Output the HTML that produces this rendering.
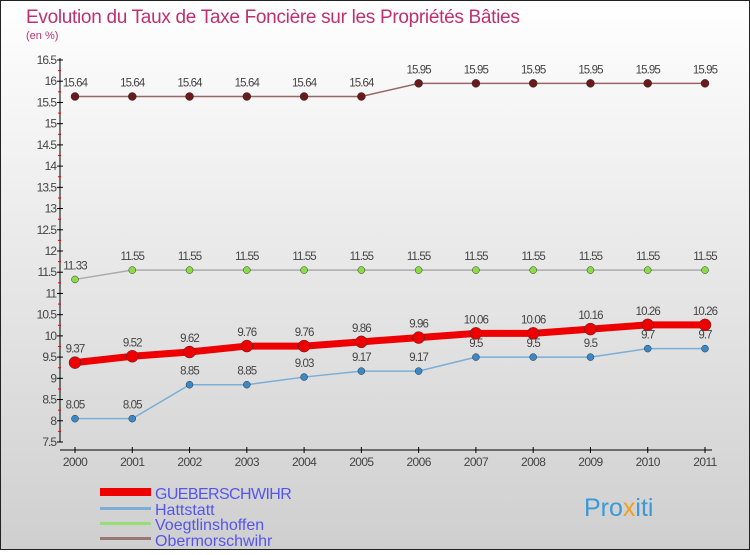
<!DOCTYPE html>
<html><head><meta charset="utf-8"><style>
body{margin:0}
svg text{font-family:"Liberation Sans",sans-serif}
</style></head><body>
<svg id="c" width="750" height="550" xmlns="http://www.w3.org/2000/svg">
<defs><linearGradient id="bg" x1="0" y1="0" x2="0" y2="1"><stop offset="0" stop-color="#ffffff"/><stop offset="1" stop-color="#cfcfcf"/></linearGradient></defs>
<rect x="0.5" y="0.5" width="749" height="549" fill="url(#bg)" stroke="#222"/>
<text x="26" y="23" font-size="19" fill="#c03070" letter-spacing="-0.3">Evolution du Taux de Taxe Foncière sur les Propriétés Bâties</text>
<text x="26" y="39" font-size="11" fill="#c03070">(en %)</text>
<g id="axes"></g><g id="series"></g>
<g>
<rect x="100" y="488" width="51" height="8" fill="#ee0000"/>
<text x="155" y="499" font-size="16" fill="#5555ee" letter-spacing="-0.6">GUEBERSCHWIHR</text>
<rect x="100" y="507" width="51" height="3" fill="#7aaed6"/>
<text x="155" y="515" font-size="16" fill="#5555ee">Hattstatt</text>
<rect x="100" y="522" width="51" height="3" fill="#99dd77"/>
<text x="155" y="530" font-size="16" fill="#5555ee">Voegtlinshoffen</text>
<rect x="100" y="537" width="51" height="3" fill="#997777"/>
<text x="155" y="546" font-size="16" fill="#5555ee">Obermorschwihr</text>
</g>
<text x="584" y="516" font-size="25" fill="#3a9ad9">Pro<tspan fill="#f0a020">x</tspan>iti</text>
</svg>
<script>
const years=[2000,2001,2002,2003,2004,2005,2006,2007,2008,2009,2010,2011];
const yTicks=[7.5,8,8.5,9,9.5,10,10.5,11,11.5,12,12.5,13,13.5,14,14.5,15,15.5,16,16.5];
const gueb=[9.37,9.52,9.62,9.76,9.76,9.86,9.96,10.06,10.06,10.16,10.26,10.26];
const hatt=[8.05,8.05,8.85,8.85,9.03,9.17,9.17,9.5,9.5,9.5,9.7,9.7];
const voeg=[11.33,11.55,11.55,11.55,11.55,11.55,11.55,11.55,11.55,11.55,11.55,11.55];
const ober=[15.64,15.64,15.64,15.64,15.64,15.64,15.95,15.95,15.95,15.95,15.95,15.95];
const NS="http://www.w3.org/2000/svg";
const xS=i=>75+i*(630/11);
const yS=v=>442-(v-7.5)*(382/9);
function mk(t,a,p){const e=document.createElementNS(NS,t);for(const k in a)e.setAttribute(k,a[k]);p.appendChild(e);return e;}
const ax=document.getElementById('axes');
let l=mk('line',{x1:60,y1:58,x2:60,y2:442,stroke:'#000'},ax);


l=mk('line',{x1:60,y1:450,x2:712,y2:450,stroke:'#000'},ax);


yTicks.forEach((v,i)=>{const y=yS(v);
 mk('line',{x1:57,y1:y,x2:63,y2:y,stroke:'#000'},ax);
 if(i<yTicks.length-1){mk('line',{x1:58,y1:y-21.2/2,x2:61,y2:y-21.2/2,stroke:'#e00'},ax);}
 const t=mk('text',{x:56,y:y+4,'font-size':12,'text-anchor':'end',fill:'#444','letter-spacing':'-1'},ax);t.textContent=String(v);
 
 });
years.forEach((yr,i)=>{const x=xS(i);
 mk('line',{x1:x,y1:447,x2:x,y2:453,stroke:'#000'},ax);
 const t=mk('text',{x:x,y:466,'font-size':12,'text-anchor':'middle',fill:'#444','letter-spacing':'-0.6'},ax);t.textContent=yr;
 
 });
const sg=document.getElementById('series');
function series(vals,name,lc,lw,pc,r,fs){
 const g=mk('g',{},sg);
 
 
 mk('polyline',{points:vals.map((v,i)=>xS(i)+','+yS(v)).join(' '),fill:'none',stroke:lc,'stroke-width':lw},g);
 vals.forEach((v,i)=>{const c=mk('circle',{cx:xS(i),cy:yS(v),r:r,fill:pc,stroke:'#333','stroke-width':0.5},g);
  
  
  const t=mk('text',{x:xS(i),y:yS(v)-10,'font-size':fs,'text-anchor':'middle',fill:'#444','letter-spacing':'-0.9'},g);t.textContent=String(v);
  
  });
}
series(ober,'obermorschwihr','#996666',1.5,'#6a1a1a',4,11.5);
series(voeg,'voegtlinshoffen','#aaaaaa',1.5,'#88dd44',3.5,11.5);
series(hatt,'hattstatt','#7aaed6',1.5,'#3a88c8',3.5,11.5);
series(gueb,'gueberschwihr','#ee0000',7,'#ee0000',6,11.5);
</script>
</body></html>
